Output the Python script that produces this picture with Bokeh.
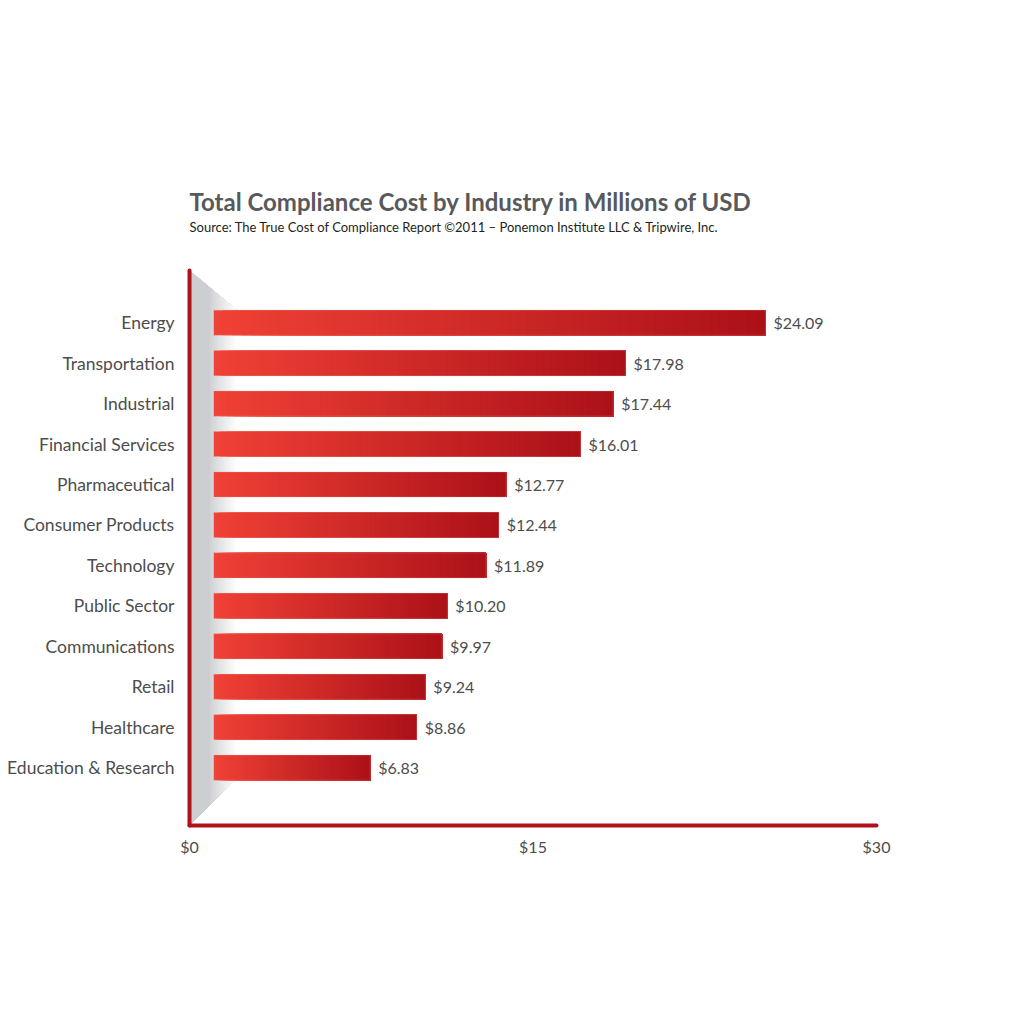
from bokeh.plotting import figure
from bokeh.models import Range1d, FixedTicker, PrintfTickFormatter, Title, ColumnDataSource
from bokeh.core.properties import value
from bokeh.embed import file_html
from bokeh.resources import INLINE

# ---- data ----
categories = ["Energy", "Transportation", "Industrial", "Financial Services",
              "Pharmaceutical", "Consumer Products", "Technology", "Public Sector",
              "Communications", "Retail", "Healthcare", "Education & Research"]
costs = [24.09, 17.98, 17.44, 16.01, 12.77, 12.44, 11.89, 10.20, 9.97, 9.24, 8.86, 6.83]
x_ticks = [0, 15, 30]
title_text = "Total Compliance Cost by Industry in Millions of USD"
subtitle_text = "Source: The True Cost of Compliance Report  \u00a92011 \u2013 Ponemon Institute LLC & Tripwire, Inc."

# ---- style ----
FONT = "Lato"
RED_AXIS = "#B0121B"
LIGHT = (239, 65, 54)
DARK = (172, 17, 24)
BAR_OFFSET = 1.06
BAR_H = 0.62
N_SLICES = 60
Y_TOP = -1.29
Y_BOT = 12.43

def mix(c1, c2, t):
    return "#%02x%02x%02x" % tuple(int(round(a + (b - a) * t)) for a, b in zip(c1, c2))

p = figure(frame_width=687, frame_height=555, output_backend="svg", toolbar_location=None,
           title=None, x_range=Range1d(0, 30), y_range=Range1d(Y_BOT, Y_TOP),
           min_border_left=189, min_border_right=136, min_border_top=270, min_border_bottom=175)
p.outline_line_color = None
p.grid.grid_line_color = None
p.background_fill_color = "white"
p.border_fill_color = "white"

# ---- shadow (grey trapezoid fading to white on its right side) ----
sh_w = 2.1
d_top = 1.0
d_bot = 1.2
n_sh = 36
xs, ys, cols = [], [], []
for k in range(n_sh):
    a = sh_w * k / n_sh
    b = sh_w
    ta = Y_TOP + d_top * a / sh_w
    tb = Y_TOP + d_top
    ba = Y_BOT - d_bot * a / sh_w
    bb = Y_BOT - d_bot
    xs.append([a, b, b, a])
    ys.append([ta, tb, bb, ba])
    f = k / (n_sh - 1)
    t = 0.0 if f < 0.4 else ((f - 0.4) / 0.6) ** 0.9
    cols.append(mix((205, 206, 209), (255, 255, 255), t))
p.patches(xs=xs, ys=ys, fill_color=cols, line_color=None)

# ---- bars with gradient (overlapping slices, each running to the bar end) ----
yidx = list(range(len(categories)))
lefts, rights, yy, bcols = [], [], [], []
for i, v in enumerate(costs):
    for k in range(N_SLICES):
        lefts.append(BAR_OFFSET + v * k / N_SLICES)
        rights.append(BAR_OFFSET + v)
        yy.append(i)
        bcols.append(mix(LIGHT, DARK, k / (N_SLICES - 1)))
src = ColumnDataSource(dict(y=yy, left=lefts, right=rights, c=bcols))
p.hbar(y="y", left="left", right="right", height=BAR_H, fill_color="c", line_color=None,
       source=src)
# faint light edge around each bar
p.hbar(y=yidx, left=BAR_OFFSET, right=[BAR_OFFSET + v for v in costs], height=BAR_H,
       fill_color=None, line_color="#f4a097", line_width=0.8, line_alpha=0.35)

# ---- value labels ----
lab_src = ColumnDataSource(dict(x=[BAR_OFFSET + v for v in costs], y=yidx,
                                t=["$%.2f" % v for v in costs]))
p.text(x="x", y="y", text="t", source=lab_src, x_offset=8, text_baseline="middle",
       text_align="left", text_font_size="16px", text_color="#4d4d4d",
       text_font=value(FONT))

# ---- axes ----
p.xaxis.ticker = FixedTicker(ticks=x_ticks)
p.xaxis.formatter = PrintfTickFormatter(format="$%d")
p.yaxis.ticker = FixedTicker(ticks=yidx)
p.yaxis.major_label_overrides = {i: c for i, c in enumerate(categories)}
for ax in (p.xaxis[0], p.yaxis[0]):
    ax.axis_line_color = RED_AXIS
    ax.axis_line_width = 4
    ax.axis_line_cap = "round"
    ax.major_tick_line_color = None
    ax.minor_tick_line_color = None
    ax.major_label_text_font = FONT
    ax.major_label_text_color = "#4d4d4d"
p.yaxis.major_label_text_font_size = "17.5px"
p.yaxis.major_label_standoff = 9
p.xaxis.major_label_text_font_size = "16px"
p.xaxis.major_label_standoff = 5

# ---- titles (a blank spacer keeps them clear of the plot) ----
p.add_layout(Title(text=" ", text_font=FONT, text_font_size="1px", standoff=33), "above")
p.add_layout(Title(text=subtitle_text, text_font=FONT, text_font_size="13px",
                   text_font_style="normal", text_color="#231f20", align="left",
                   standoff=0), "above")
p.add_layout(Title(text=title_text, text_font=FONT, text_font_style="bold",
                   text_font_size="24px", text_color="#58595b", align="left",
                   standoff=1), "above")

open("out.html", "w").write(file_html(p, INLINE))
